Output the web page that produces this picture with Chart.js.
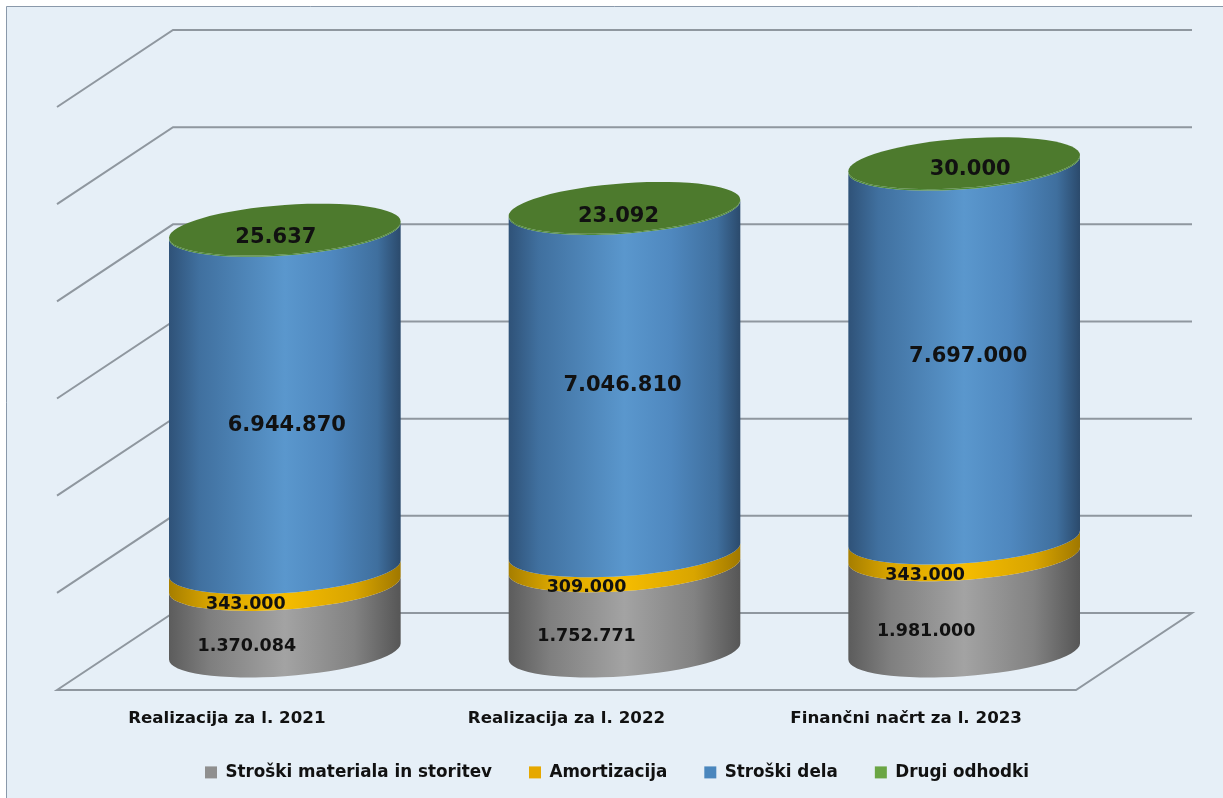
<!DOCTYPE html>
<html>
<head>
<meta charset="utf-8">
<style>html,body{margin:0;padding:0;background:#fff}canvas{display:block}</style>
<script src="https://cdn.jsdelivr.net/npm/chart.js@4"></script>
</head>
<body>
<canvas id="c" width="1223" height="798"></canvas>
<script>
const categories = ["Realizacija za l. 2021", "Realizacija za l. 2022", "Finančni načrt za l. 2023"];
const seriesNames = ["Stroški materiala in storitev", "Amortizacija", "Stroški dela", "Drugi odhodki"];
const strosksiMateriala = [1370084, 1752771, 1981000];
const amortizacija = [343000, 309000, 343000];
const stroskiDela = [6944870, 7046810, 7697000];
const drugiOdhodki = [25637, 23092, 30000];
const axisMin = 0, axisMax = 12000000, axisStep = 2000000;

const legendColors = ["#8f8f8f", "#e6a800", "#4a86bd", "#6aa544"];
const shades = [
  [[0,"#5c5c5c"],[0.18,"#7f7f7f"],[0.5,"#a3a3a3"],[0.8,"#828282"],[1,"#565656"]],
  [[0,"#a67e00"],[0.18,"#d9a500"],[0.5,"#f5bc00"],[0.8,"#d9a500"],[1,"#a07800"]],
  [[0,"#2f5278"],[0.13,"#40709f"],[0.5,"#5a97cd"],[0.7,"#4f88bf"],[0.9,"#3f6f9e"],[1,"#2b4a6c"]],
  [[0,"#4f8a38"],[1,"#4f8a38"]]
];
const depthX = 116, depthY = 77, shear = -0.07, capRatio = 24.7 / 116;
const bigFont = "bold 21px 'DejaVu Sans'", smallFont = "bold 17.5px 'DejaVu Sans'";
const labelNudge = [
  [[-38,28],[-38,28],[-38,28]],
  [[-39,28],[-38,29],[-39,29]],
  [[2,26],[-2,5],[4,5]],
  [[-9,7],[-6,8],[6,6]]
];
const fmt = v => String(v).replace(/\B(?=(\d{3})+$)/g, ".");

function segment(ctx, el, stops) {
  const a = el.width / 2, cx = el.x + depthX / 2, b = a * capRatio;
  const top = el.y - depthY / 2, base = el.base - depthY / 2;
  ctx.save();
  ctx.transform(1, shear, 0, 1, cx, 0);
  const g = ctx.createLinearGradient(-a, 0, a, 0);
  stops.forEach(s => g.addColorStop(s[0], s[1]));
  ctx.fillStyle = g;
  ctx.beginPath();
  ctx.ellipse(0, top, a, b, 0, 0, Math.PI, false);
  ctx.ellipse(0, base, a, b, 0, Math.PI, 0, true);
  ctx.closePath();
  ctx.fill();
  ctx.restore();
}
function cap(ctx, el) {
  const a = el.width / 2, cx = el.x + depthX / 2, b = a * capRatio;
  ctx.save();
  ctx.transform(1, shear, 0, 1, cx, 0);
  ctx.beginPath();
  ctx.ellipse(0, el.y - depthY / 2, a, b, 0, 0, Math.PI * 2);
  ctx.fillStyle = "#4d7a2d";
  ctx.fill();
  ctx.restore();
}

const scene = {
  id: "scene",
  beforeLayout(chart) {
    const lg = chart.legend;
    if (lg && !lg._wrapped) {
      const f = lg.fit;
      lg.fit = function () { f.call(this); this.height = 30; };
      lg._wrapped = true;
    }
  },
  beforeDraw(chart) {
    const ctx = chart.ctx;
    ctx.save();
    ctx.fillStyle = "#e6eff7";
    ctx.fillRect(6, 6, chart.width, chart.height);
    ctx.strokeStyle = "#8a99aa";
    ctx.lineWidth = 1;
    ctx.beginPath();
    ctx.moveTo(6.5, chart.height);
    ctx.lineTo(6.5, 6.5);
    ctx.lineTo(chart.width, 6.5);
    ctx.stroke();
    ctx.restore();
    const lg = chart.legend;
    lg.left = 205 - lg.options.labels.padding;
    lg.right = chart.width;
    lg.top = 774 - lg.options.labels.padding - 10;
    lg.bottom = chart.height;
  },
  beforeDatasetsDraw(chart) {
    const ctx = chart.ctx, y = chart.scales.y, area = chart.chartArea;
    ctx.save();
    ctx.strokeStyle = "#8f979f";
    ctx.lineWidth = 2;
    y.ticks.forEach(t => {
      const py = y.getPixelForValue(t.value);
      ctx.beginPath();
      ctx.moveTo(area.left, py);
      ctx.lineTo(area.left + depthX, py - depthY);
      ctx.lineTo(area.right + depthX, py - depthY);
      if (t.value === axisMin) {
        ctx.lineTo(area.right, py);
        ctx.closePath();
      }
      ctx.stroke();
    });
    ctx.restore();
    chart.data.datasets.forEach((ds, i) => {
      chart.getDatasetMeta(i).data.forEach(el => segment(ctx, el, shades[i]));
    });
    chart.getDatasetMeta(3).data.forEach(el => cap(ctx, el));
    chart.data.datasets.forEach((ds, i) => {
      chart.getDatasetMeta(i).data.forEach((el, j) => {
        const mx = el.x + depthX / 2 + labelNudge[i][j][0];
        const my = (el.y + el.base) / 2 - depthY / 2 + labelNudge[i][j][1];
        ctx.save();
        ctx.font = i >= 2 ? bigFont : smallFont;
        ctx.fillStyle = "#111";
        ctx.textAlign = "center";
        ctx.textBaseline = "middle";
        ctx.fillText(fmt(ds.data[j]), mx, my);
        ctx.restore();
      });
    });
  },
  beforeDatasetDraw() { return false; }
};

const seriesValues = [strosksiMateriala, amortizacija, stroskiDela, drugiOdhodki];
new Chart(document.getElementById("c"), {
  type: "bar",
  plugins: [scene],
  data: {
    labels: categories,
    datasets: seriesNames.map((n, i) => ({
      label: n, data: seriesValues[i],
      backgroundColor: legendColors[i], borderWidth: 0,
      categoryPercentage: 0.682, barPercentage: 1
    }))
  },
  options: {
    responsive: false,
    animation: false,
    layout: { padding: { left: 57, right: 147, top: 107, bottom: 0 } },
    plugins: {
      tooltip: { enabled: false },
      title: { display: false },
      legend: {
        position: "bottom", align: "start",
        labels: {
          boxWidth: 12, boxHeight: 12, padding: 37, color: "#111",
          font: { family: "'DejaVu Sans'", size: 16.8, weight: "bold" }
        }
      }
    },
    scales: {
      x: {
        stacked: true,
        grid: { display: false },
        border: { display: false },
        afterFit(s) { s.height = 78; },
        ticks: {
          padding: 11, color: "#111", maxRotation: 0,
          font: { family: "'DejaVu Sans'", size: 16.7, weight: "bold" }
        }
      },
      y: {
        stacked: true, display: false,
        min: axisMin, max: axisMax,
        ticks: { stepSize: axisStep }
      }
    }
  }
});
</script>
</body>
</html>
